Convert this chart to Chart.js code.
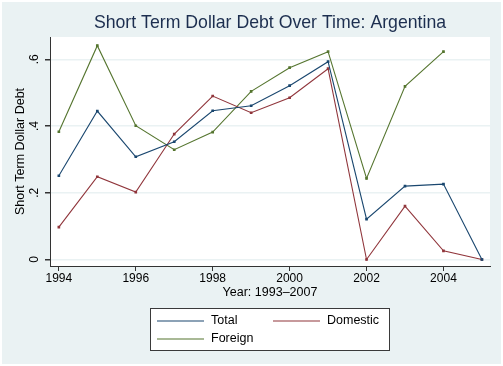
<!DOCTYPE html>
<html>
<head>
<meta charset="utf-8">
<script src="https://cdn.jsdelivr.net/npm/chart.js@4.4.1/dist/chart.umd.min.js"></script>
<style>
  html, body { margin: 0; padding: 0; background: #ffffff; }
  #wrap { width: 503px; height: 366px; }
</style>
</head>
<body>
<div id="wrap"><canvas id="grafica" width="503" height="366"></canvas></div>
<script>
// Short term dollar debt, Argentina
const years = [1994, 1995, 1996, 1997, 1998, 1999, 2000, 2001, 2002, 2003, 2004, 2005];
const total = [0.251, 0.445, 0.308, 0.353, 0.446, 0.461, 0.521, 0.593, 0.121, 0.220, 0.226, 0.0];
const domestic = [0.097, 0.248, 0.202, 0.376, 0.490, 0.440, 0.485, 0.572, 0.0, 0.160, 0.026, 0.0];
const foreign = [0.383, 0.641, 0.401, 0.329, 0.382, 0.504, 0.575, 0.623, 0.243, 0.519, 0.623, null];

const xTicks = [1994, 1996, 1998, 2000, 2002, 2004];
const yTicks = [0, 0.2, 0.4, 0.6];
const yTickLabels = ["0", ".2", ".4", ".6"];

const BG = "#eaf2f3";
const FONT = "'Liberation Sans', Arial, sans-serif";

function serie(label, values, color) {
    return {
        label: label,
        data: years.map((y, i) => ({x: y, y: values[i]})),
        borderColor: color,
        backgroundColor: color,
        borderWidth: 1.1,
        pointStyle: "rect",
        pointRadius: 1.1,
        pointHoverRadius: 1.1,
        tension: 0,
        spanGaps: false
    };
}

// fondo, titulo, etiquetas del eje y y leyenda
const extras = {
    id: "extras",
    beforeDraw(chart) {
        const ctx = chart.ctx;
        const a = chart.chartArea;
        ctx.save();
        ctx.fillStyle = "#ffffff";
        ctx.fillRect(0, 0, chart.width, chart.height);
        ctx.fillStyle = BG;
        ctx.fillRect(2, 2, chart.width - 4, chart.height - 4);
        ctx.fillStyle = "#ffffff";
        ctx.fillRect(a.left, a.top, a.right - a.left, a.bottom - a.top);
        ctx.restore();
    },
    afterDraw(chart) {
        const ctx = chart.ctx;
        const a = chart.chartArea;
        const ys = chart.scales.y;
        ctx.save();
        ctx.fillStyle = "#1c2e4f";
        ctx.font = "17.7px " + FONT;
        ctx.textAlign = "center";
        ctx.textBaseline = "middle";
        ctx.fillText("Short Term Dollar Debt Over Time: Argentina", (a.left + a.right) / 2, 23);

        ctx.fillStyle = "#000000";
        ctx.font = "12px " + FONT;
        yTicks.forEach((v, i) => {
            ctx.save();
            ctx.translate(35, ys.getPixelForValue(v));
            ctx.rotate(-Math.PI / 2);
            ctx.fillText(yTickLabels[i], 0, 0);
            ctx.restore();
        });

        // leyenda
        const bx = 150.5, by = 308.5, bw = 239, bh = 42;
        ctx.fillStyle = "#ffffff";
        ctx.fillRect(bx, by, bw, bh);
        ctx.strokeStyle = "#3a3a3a";
        ctx.lineWidth = 1;
        ctx.strokeRect(bx, by, bw, bh);
        const slots = [[157, 321], [273, 321], [157, 339]];
        ctx.textAlign = "left";
        ctx.font = "12.5px " + FONT;
        chart.data.datasets.forEach((ds, i) => {
            const [sx, sy] = slots[i];
            ctx.strokeStyle = ds.borderColor;
            ctx.lineWidth = 1.1;
            ctx.beginPath();
            ctx.moveTo(sx, sy);
            ctx.lineTo(sx + 47, sy);
            ctx.stroke();
            ctx.fillStyle = "#000000";
            ctx.fillText(ds.label, sx + 54, sy);
        });
        ctx.restore();
    }
};

new Chart(document.getElementById("grafica"), {
    type: "line",
    data: {
        datasets: [
            serie("Total", total, "#1a476f"),
            serie("Domestic", domestic, "#90353b"),
            serie("Foreign", foreign, "#55752f")
        ]
    },
    options: {
        responsive: false,
        animation: false,
        layout: { padding: { top: 37, left: 0, right: 13, bottom: 66 } },
        plugins: {
            legend: { display: false },
            title: { display: false },
            tooltip: { enabled: false }
        },
        scales: {
            x: {
                type: "linear",
                min: 1993.77,
                max: 2005.21,
                afterBuildTicks: s => { s.ticks = xTicks.map(v => ({value: v})); },
                afterFit: s => { s.height = 34; },
                ticks: {
                    color: "#000000",
                    font: { family: FONT, size: 12 },
                    padding: 0,
                    maxRotation: 0,
                    callback: v => String(v)
                },
                grid: {
                    drawOnChartArea: false,
                    drawTicks: true,
                    tickLength: 5,
                    tickColor: "#333333"
                },
                border: { color: "#333333", width: 1 },
                title: {
                    display: true,
                    text: "Year: 1993\u20132007",
                    color: "#000000",
                    font: { family: FONT, size: 12.5 },
                    padding: { top: 0, bottom: 0 }
                }
            },
            y: {
                type: "linear",
                min: -0.0195,
                max: 0.667,
                afterBuildTicks: s => { s.ticks = yTicks.map(v => ({value: v})); },
                afterFit: s => { s.width = 50; },
                ticks: {
                    display: false
                },
                grid: {
                    color: BG,
                    lineWidth: 1.5,
                    drawTicks: true,
                    tickLength: 5,
                    tickColor: "#333333"
                },
                border: { color: "#333333", width: 1 },
                title: {
                    display: true,
                    text: "Short Term Dollar Debt",
                    color: "#000000",
                    font: { family: FONT, size: 12.5 },
                    padding: { top: 13, bottom: 0 }
                }
            }
        }
    },
    plugins: [extras]
});
</script>
</body>
</html>
